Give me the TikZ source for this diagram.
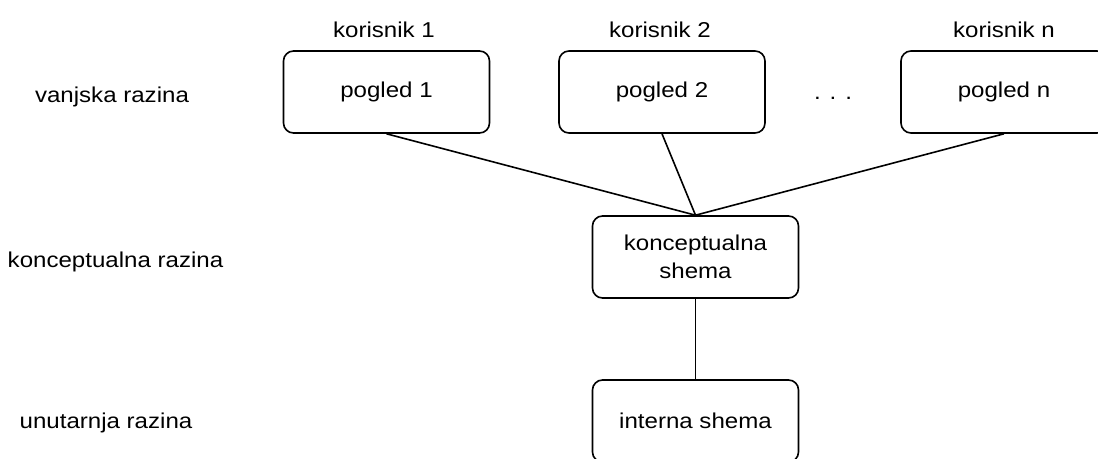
\documentclass[tikz,border=0pt]{standalone}
\usepackage{fontspec}
\setmainfont{Liberation Sans}[FakeStretch=1.12]
\begin{document}
\begin{tikzpicture}[x=1pt,y=-1pt,
  box/.style={draw=black,line width=1.6pt,rounded corners=10pt,minimum width=206pt,minimum height=82pt,inner sep=0pt,align=center,font=\fontsize{21.5}{28.5}\selectfont},
  lbl/.style={inner sep=0pt,font=\fontsize{21.5}{25.5}\selectfont},
  conn/.style={draw=black,line width=1.6pt}]
\useasboundingbox (0,0) rectangle (1098,458);
\clip (0,0) rectangle (1098,458);
\node[box] (p1) at (386.5,92) {pogled 1};
\node[box] (p2) at (662,92) {pogled 2};
\node[box] (pn) at (1004,92) {pogled n};
\node[box] (ks) at (695.5,257) {konceptualna\\shema};
\node[box] (is) at (695.5,421) {interna shema};
\node[lbl] (k1) at (384,30) {korisnik 1};
\node[lbl] (k2) at (660,30) {korisnik 2};
\node[lbl] (kn) at (1004,30) {korisnik n};
\node[lbl] (dots) at (833,98) {. . .};
\node[lbl] (v) at (112,97) {vanjska razina};
\node[lbl] (kr) at (115.5,262) {konceptualna razina};
\node[lbl] (u) at (106,423) {unutarnja razina};
\draw[conn] (p1.south) -- (ks.north);
\draw[conn] (p2.south) -- (ks.north);
\draw[conn] (pn.south) -- (ks.north);
\draw[conn] (ks.south) -- (is.north);
\end{tikzpicture}
\end{document}
